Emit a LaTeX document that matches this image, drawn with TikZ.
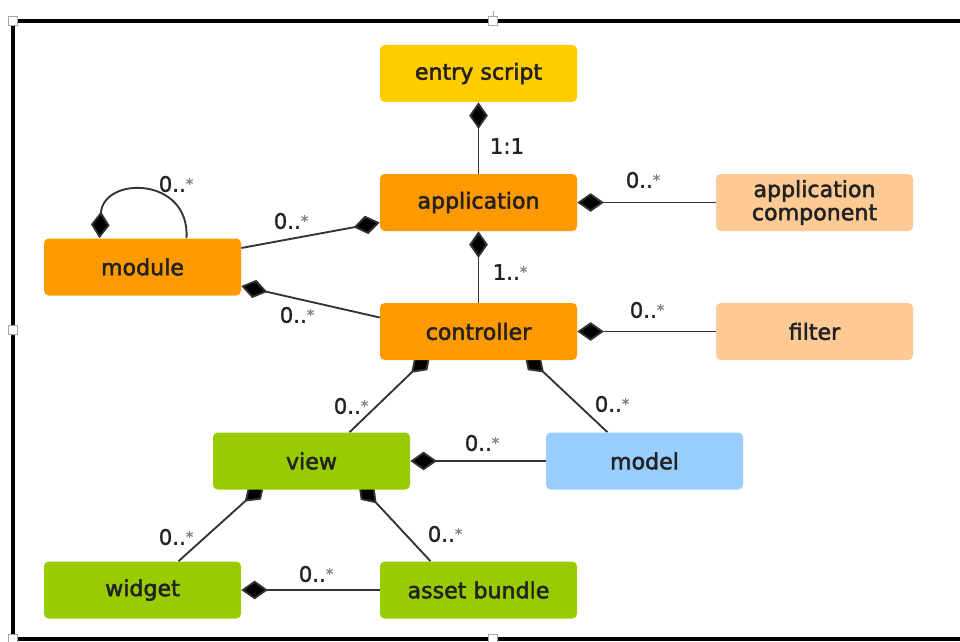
\documentclass[tikz,border=0pt]{standalone}
\usepackage{fontspec}
\setmainfont{DejaVu Sans}
\newfontfamily\boxfont{DejaVu Sans}[FakeBold=2.2]
\newfontfamily\lblfont{DejaVu Sans}[FakeBold=1.2]
\usetikzlibrary{arrows.meta,calc,backgrounds}
\definecolor{txt}{HTML}{222222}
\definecolor{linec}{HTML}{333333}
\definecolor{gold}{HTML}{FFCC00}
\definecolor{orng}{HTML}{FF9900}
\definecolor{peach}{HTML}{FDC995}
\definecolor{lime}{HTML}{99CC00}
\definecolor{sky}{HTML}{99CCFF}
\newcommand{\mult}{0..\raisebox{2pt}{\fontsize{11}{11}\selectfont\color{gray}*}}
\tikzset{
  box/.style={rectangle, rounded corners=3.5pt, minimum width=147.75pt,
    minimum height=42.75pt, inner sep=0pt, text=txt, align=center,
    font=\boxfont\fontsize{16.6}{17.4}\selectfont},
  comp/.style={draw=linec, line width=1.4pt,
    {Diamond[length=20pt, width=14pt, fill=black]}-},
  lbl/.style={text=txt, font=\lblfont\fontsize{16}{17}\selectfont, inner sep=0pt},
  frameline/.style={draw=black, line width=2.4pt},
  handle/.style={draw=gray!70, fill=white, line width=0.8pt,
    minimum size=6.5pt, inner sep=0pt, rectangle}
}
\begin{document}
\begin{tikzpicture}[x=0.75pt, y=-0.75pt]
\useasboundingbox (0,0) rectangle (960,642);

% selection frame
\draw[frameline] (13,21) -- (965,21);
\draw[frameline] (13,21) -- (13,639);
\draw[frameline] (13,639) -- (965,639);
\draw[gray!70, line width=0.6pt] (493,11) -- (493,17);
\node[handle] (h1) at (13,21) {};
\node[handle] (h2) at (493,21) {};
\node[handle] (h3) at (13,330) {};
\node[handle] (h4) at (13,639) {};
\node[handle] (h5) at (493,639) {};

% classes
\node[box, fill=gold]  (entry)   at (478.5,73.5) {entry script};
\node[box, fill=orng]  (app)     at (478.5,202.5) {application};
\node[box, fill=peach] (appcomp) at (814.5,202.5) {application\\component};
\node[box, fill=orng]  (module)  at (142.5,267) {module};
\node[box, fill=orng]  (ctrl)    at (478.5,331.5) {controller};
\node[box, fill=peach] (filter)  at (814.5,331.5) {filter};
\node[box, fill=lime]  (view)    at (311.5,461) {view};
\node[box, fill=sky]   (model)   at (644.5,461) {model};
\node[box, fill=lime]  (widget)  at (142.5,590) {widget};
\node[box, fill=lime]  (asset)   at (478.5,590) {asset bundle};

% composition links
\begin{scope}[on background layer]
\draw[comp] (entry.south) -- (app.north);
\draw[comp] (app.east) -- (appcomp.west);
\draw[comp] (app.south) -- (ctrl.north);
\draw[comp] (ctrl.east) -- (filter.west);
\draw[comp] ($(app.west)+(0,20)$) -- ($(module.east)+(0,-19)$);
\draw[comp] ($(module.east)+(0,19)$) -- ($(ctrl.west)+(0,-14)$);
\draw[comp] ($(module.north)+(-43,0)$) .. controls (103,176) and (190,176) .. ($(module.north)+(44,0)$);
\draw[comp] ($(ctrl.south)+(-48,-6)$) -- ($(view.north)+(38,0)$);
\draw[comp] ($(ctrl.south)+(46,-6)$) -- ($(model.north)+(-37,0)$);
\draw[comp] (view.east) -- (model.west);
\draw[comp] ($(view.south)+(-47,-6)$) -- ($(widget.north)+(36,0)$);
\draw[comp] ($(view.south)+(47,-6)$) -- ($(asset.north)+(-48,0)$);
\draw[comp] (widget.east) -- (asset.west);
\end{scope}

% multiplicities
\node[lbl] (m1)  at (507,146) {1:1};
\node[lbl] (m2)  at (643,180) {\mult};
\node[lbl] (m3)  at (291,221) {\mult};
\node[lbl] (m4)  at (176,184) {\mult};
\node[lbl] (m5)  at (297,315) {\mult};
\node[lbl] (m6)  at (510,272) {1..\raisebox{2pt}{\fontsize{11}{11}\selectfont\color{gray}*}};
\node[lbl] (m7)  at (647,310) {\mult};
\node[lbl] (m8)  at (351,406) {\mult};
\node[lbl] (m9)  at (612,404) {\mult};
\node[lbl] (m10) at (482,443) {\mult};
\node[lbl] (m11) at (176,537) {\mult};
\node[lbl] (m12) at (445,534) {\mult};
\node[lbl] (m13) at (316,574) {\mult};
\end{tikzpicture}
\end{document}
